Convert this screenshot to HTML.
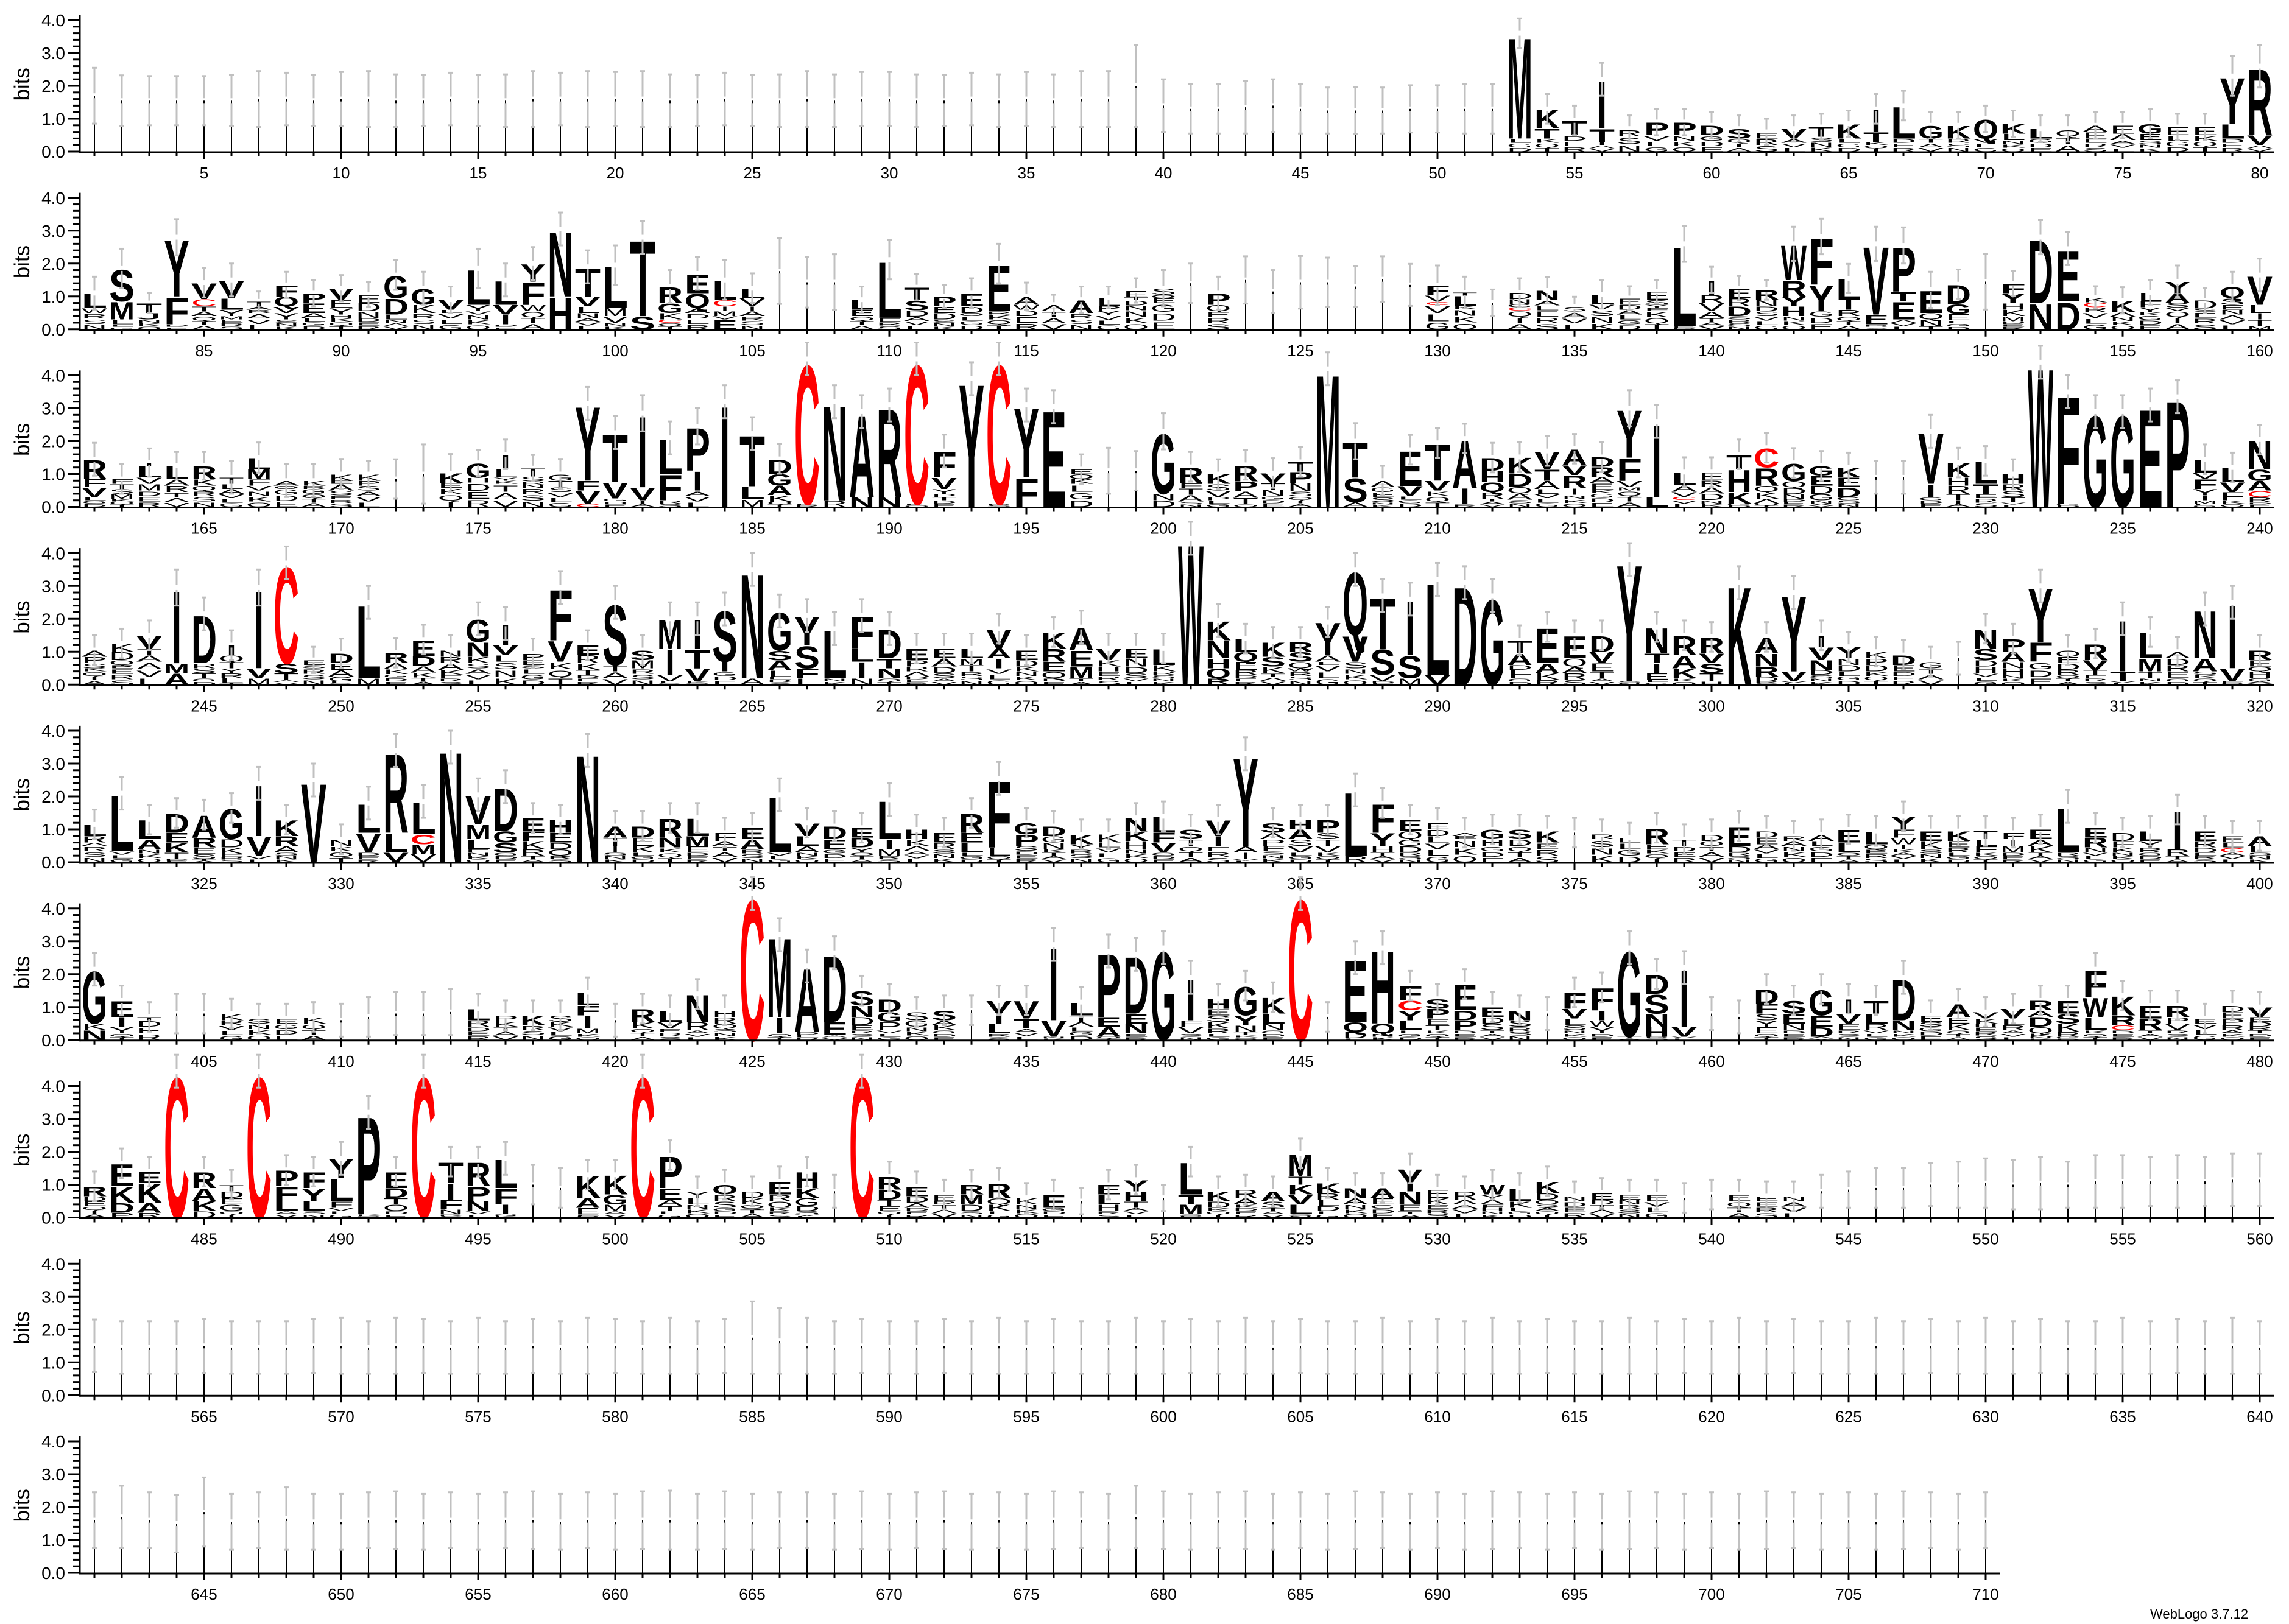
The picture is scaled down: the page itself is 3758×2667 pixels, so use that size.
<!DOCTYPE html>
<html><head><meta charset="utf-8"><title>WebLogo</title>
<style>html,body{margin:0;padding:0;background:#fff;}svg{display:block;}</style></head>
<body>
<svg id="logo" width="3758" height="2667" viewBox="0 0 3758 2667" xmlns="http://www.w3.org/2000/svg" font-family="Liberation Sans, Arial, sans-serif">
<text x="3530" y="2658" font-size="22" fill="#000">WebLogo 3.7.12</text>
</svg>
<script>
// Per-position stacks: letters top-to-bottom with heights in bits; "*" = mixed small residues, "|" = near-empty column; "/x" = error half-width (bits)
const row1Stacks = "|1.7/.85 |1.55/.77 |1.55/.75 |1.55/.75 |1.55/.75 |1.55/.78 |1.6/.85 |1.6/.8 |1.55/.78 |1.6/.82 |1.6/.85 |1.55/.8 |1.55/.78 |1.6/.8 |1.55/.78 |1.55/.8 |1.6/.85 |1.6/.8 |1.6/.85 |1.6/.82 |1.6/.85 |1.55/.8 |1.55/.78 |1.6/.8 |1.55/.78 |1.55/.8 |1.6/.85 |1.55/.8 |1.6/.82 |1.6/.82 |1.55/.8 |1.55/.78 |1.6/.8 |1.55/.8 |1.6/.82 |1.55/.8 |1.6/.85 |1.6/.85 |2.0/1.25 |1.4/.8 |1.3/.75 |1.3/.75 |1.35/.8 |1.4/.8 |1.3/.75 |1.25/.7 |1.25/.72 |1.25/.7 |1.3/.72 |1.3/.72 |1.3/.75 |1.3/.75 M3.2*.4/.45 K.6T.3*.4/.45 T.45*.5/.45 I1.5T.4*.3/.5 *.7/.4 P.4*.5/.4 P.4*.5/.4 D.3*.5/.4 S.3*.4/.4 *.6/.4 V.3*.4/.4 T.3*.45/.4 K.45*.4/.4 I.7T.3*.3/.45 L1.0*.4/.45 G.4*.4/.4 K.4*.4/.4 Q.6*.4/.4 K.3L.2*.35/.4 L.3*.4/.4 *.7/.4 A.2E.2*.4/.4 E.25A.2*.35/.4 G.3E.2*.35/.45 E.25*.5/.4 E.25*.5/.4 Y1.45L.45*.4/.6 R2.1V.3*.2/.65";
const row2Stacks = "L.45W.15*.5/.5 S1.0M.55L.15*.15/.6 T.3J.2*.3/.3 Y1.8F.85*.15/.55 V.5C.22T.15A.15*.4/.45 V.55L.35Y.2M.1*.3/.5 T.15A.1R.1*.5/.3 F.35Q.3V.2Y.2*.3/.4 P.3E.3A.15*.35/.4 V.35E.25Y.2H.1*.35/.4 E.25D.25N.2*.35/.38 G.7D.5E.15N.1*.2/.45 G.5K.25*.5/.5 V.3L.1*.5/.4 L1.1Y.2V.1*.45/.6 L.75V.3I.3*.15/.5 Y.55F.7W.2*.55/.5 N2.05H1.0/.5 T.9V.3L.2N.15*.35/.5 L1.3M.25V.2*.2/.6 T2.4S.4/.5 R.5G.3K.2C.1*.2/.5 E.6Q.45A.15*.5/.5 L.6C.2I.15M.15V.1E.3/.6 L.3V.25I.15A.15*.4/.45 |1.77/1.0 |1.43/.77 |1.43/.85 L.3E.2*.4/.4 L1.77*.35/.6 T.4S.3D.2*.38/.4 P.3E.2D.2*.3/.35 E.4D.2O.1*.4/.45 E1.45R.1*.45/.6 A.25W.15*.6/.42 A.2*.55/.3 A.4*.5/.4 L.25P.15Y.15*.42/.33 E.2T.1D.15N.15*.58/.37 S.2Q.1E.15*.8/.55 |1.4/.6 P.35Q.2*.55/.5 |1.5/.72 |1.15/.65 |1.43/.8 |1.43/.75 |1.3/.62 |1.52/.7 |1.35/.64 F.3V.2C.1*.74/.6 T.1L.3K.1*.62/.48 |.81/.4 D.2N.15G.1C.1*.57/.43 N.3A.15E.15*.58/.4 S.15*.54/.3 L.3V.15*.61/.43 E.2D.15A.15*.45/.36 E.25S.15Y.1F.1*.55/.35 L2.5*.1/.55 I.45R.25V.25A.2*.35/.4 E.3R.25D.3S.1*.3/.37 R.3N.2D.15S.15*.4/.3 W1.1R.5Y.3H.3*.4/.52 F1.45Y.8*.57/.54 L.65I.3R.2*.4/.44 V2.15E.3*.15/.52 P1.4T.3E.55*.3/.55 E.7Q.2N.2T.1/.55 D.6G.3E.2*.27/.45 |1.45/.85 F.3Y.3H.2K.2M.15*.25/.38 D2.0N.8/.52 E1.6D.85/.5 K.15C.15R.15*.52/.34 K.35A.15*.38/.4 L.25F.2Y.15K.1*.42/.37 Y.35A.3S.15V.1*.56/.48 D.25S.1*.53/.38 Q.35S.2E.15N.15*.45/.45 V.9L.25I.2T.2M.1/.5";
const row3Stacks = "R.6F.25V.3*.3/.5 F.15T.15S.15M.15*.25/.45 T.1L.35V.2M.2*.5/.43 L.4A.2R.2*.45/.42 R.4K.2Q.15*.5/.42 T.2L.15A.15*.4/.5 L.35M.3F.2V.15*.5/.46 A.15O.1*.55/.5 K.15R.1G.15*.4/.5 K.2E.1A.2S.15*.35/.46 K.2P.15S.15*.5/.4 |.85/.6 |1.0/.9 K.3E.15*.58/.58 G.45H.15*.74/.4 I.45L.25Y.1K.1*.7/.45 T.25S.15R.1N.1*.58/.4 G.2T.2S.15*.45/.46 Y2.35F.3V.4C.1/.5 T1.5V.5*.26/.5 I2.25V.4*.2/.55 L1.1F.8*.2/.5 P1.35I.6*.5/.55 I3.2/.5 T1.6L.4M.23/.5 D.45G.35A.3K.2*.16/.45 C4.4*.1/.5 N3.0R.2/.5 A2.6N.3/.5 R2.8N.3/.5 C4.4*.1/.5 F.8V.35Y.15P.1T.1*.2/.5 Y3.9/.5 C4.4*.1/.5 Y2.2F.9/.5 E3.05/.5 E.15Q.15K.15*.7/.45 |1.1/.7 |1.1/.6 G1.9N.2D.2/.55 R.5F.15T.2A.2*.17/.45 K.3S.2V.2P.1*.2/.45 R.5P.3A.2T.2*.08/.45 V.3T.2N.2*.33/.45 T.3P.35N.25S.15*.32/.45 M4.2/.5 T1.1S.75A.15/.55 A.2G.15E.15S.15*.15/.45 E1.1V.3*.34/.45 T1.15V.3*.5/.45 A1.5I.5*.08/.45 D.4H.35Q.3R.2*.25/.45 K.5D.4Q.2A.2*.22/.45 V.55T.35A.25L.15*.4/.45 A.5V.3R.4I.2*.37/.45 D.3R.3A.2E.2K.1*.42/.45 Y1.5F.7V.2M.1*.5/.55 I2.3L.3/.5 L.4A.2V.15C.1*.21/.45 E.25R.2A.2D.2*.21/.45 T.45H.7K.35*.1/.45 C.6R.55Q.2K.2A.15*.1/.45 G.55Q.2D.2N.15*.24/.45 G.3E.3D.25G.2N.1*.1/.45 K.3E.3D.3G.1*.2/.45 |.9/.5 |.9/.5 V1.6I.4*.3/.5 K.45H.25R.25T.2*.2/.45 L.7T.3*.4/.45 H.3R.2S.2T.15*.15/.45 W4.4/.5 F3.4*.1/.5 G2.9/.5 G2.9/.5 E3.1/.5 P3.35/.5 L.4V.2F.3Y.2T.15M.1*.1/.45 L.45V.3F.25*.2/.45 N.9G.35A.3C.2R.15*.15/.45";
const row4Stacks = "A.2P.2S.15K.1*.4/.45 K.25D.25Q.15E.1*.5/.45 V.4T.2A.2*.7/.45 I2.3M.3A.35/.55 D1.5R.15S.15T.15*.2/.5 I.3Q.2T.2Y.15R.15L.15*.05/.45 I2.45V.3M.2/.55 C3.05S.3T.2*.15/.5 E.15S.1*.5/.4 D.3E.2A.2G.15*.1/.45 L2.3M.2/.5 R.3A.2K.15*.32/.45 E.5D.3A.2K.15*.22/.45 N.2R.2A.2K.15*.3/.45 G.7N.45K.2S.15*.5/.5 I.65V.3L.2*.7/.5 P.2E.15S.1*.5/.45 F1.6V.65*.7/.5 E.3R.25K.2T.15*.3/.45 S1.9*.6/.5 S.3M.25*.5/.45 M.9I.8V.2*.1/.5 I.9T.6V.4*.1/.5 S1.6I.3*.4/.5 N3.3A.2/.5 G1.2S.3A.3L.2*.24/.5 Y.9S.7F.3L.2/.5 L1.5*.2/.5 F1.0L.4I.5N.2/.5 D.9T.3N.3*.2/.5 E.35P.2R.15A.15*.25/.45 E.3A.25D.2S.15*.2/.45 L.3M.2T.2*.4/.45 V.6A.3I.3*.5/.45 E.3D.2K.15*.4/.45 K.5R.4E.3Q.2*.2/.45 A.7E.5M.35*.2/.5 V.35K.2H.15*.4/.45 E.3N.25D.2S.15*.2/.45 L.5K.2R.1*.3/.45 W4.45/.5 K.6N.55H.3Q.3R.2/.5 L.4Q.3E.25R.15*.3/.45 K.45S.3K.2*.35/.45 R.3S.3Q.2W.1*.4/.45 V.6I.4A.2L.1*.6/.45 Q2.0V.8S.2*.5/.5 T1.6S.8V.2*.1/.5 I1.7S.7M.2/.5 L2.9V.3/.5 D3.1/.5 G2.7/.5 T.4A.35D.15L.15*.3/.45 E1.1A.3K.2R.15/.45 E.7Q.25A.2R.2S.15/.45 D.5V.35E.25T.2*.2/.45 Y3.7*.1/.5 N.8T.3I.3E.2*.15/.45 R.6A.4K.3*.2/.45 R.5V.3S.3T.25H.1/.45 K3.1/.5 A.5N.4R.3D.15*.1/.45 Y2.4V.3*.1/.5 I.35V.4N.3D.15*.3/.45 Y.35N.2D.2*.4/.45 K.2P.2D.2*.4/.45 D.3E.2*.4/.45 G.2*.5/.45 |.8/.5 N.6S.35D.2H.2*.35/.45 P.4A.3N.2H.2*.3/.45 Y1.7F.6*.7/.5 Q.2E.2D.2R.15*.3/.45 R.5V.3T.15*.3/.45 I1.6T.3*.1/.5 L.8M.4T.2*.2/.45 A.2D.2R.2E.2*.2/.45 N1.5A.4S.1*.3/.5 I2.0V.4*.1/.5 R.3E.2Q.15H.2G.1*.1/.45";
const row5Stacks = "L.35R.2A.1*.5/.45 L1.75*.35/.5 L.6A.3*.4/.45 D.6E.3K.3T.2*.1/.45 A.7R.3E.2S.15*.1/.45 G.95D.25K.2*.25/.45 I1.6V.6*.2/.5 K.5R.3A.2*.3/.45 V2.5/.5 N.2*.5/.45 L.9V.6*.3/.5 R2.5L.6V.3/.5 L1.0C.3M.3V.25/.5 N3.5/.5 V.9M.45L.3E.1*.3/.5 D1.35G.35S.3*.3/.5 E.4F.3K.25R.2*.2/.45 H.4E.3D.2Q.2*.2/.45 N3.4/.5 A.35T.25I.2*.3/.45 D.35E.25K.2*.3/.45 R.6N.3*.45/.45 L.55M.3E.2*.3/.45 F.25A.15*.5/.45 E.35A.3*.4/.45 L1.75*.3/.5 V.4L.3A.2*.3/.45 D.4E.3*.4/.45 E.3D.3Y.15*.3/.45 L1.2I.3M.2*.2/.5 H.3K.2A.15*.35/.45 E.3R.2*.4/.45 R.6E.3L.3*.3/.45 F2.1L.25*.2/.5 G.35P.35S.15*.35/.45 D.3G.2N.2K.1*.3/.45 K.3Y.15*.4/.45 K.25E.15*.45/.45 N.4K.3H.25*.4/.45 L.5F.3V.3*.3/.45 S.3T.2*.5/.45 V.5I.3*.5/.45 Y2.8A.2I.2*.1/.5 S.3A.2P.2F.15*.35/.45 H.3A.3S.2V.2*.3/.45 P.4S.2T.2V.2*.3/.45 L2.0R.2/.5 F.9Y.4H.2*.3/.45 E.35Q.25G.2D.2*.3/.45 E.2D.2L.2*.6/.45 A.1E.1*.7/.45 G.3H.2*.5/.45 S.3D.2*.5/.45 K.35*.6/.45 |.9/.45 R.15*.7/.45 E.15*.6/.45 R.5E.15*.4/.45 T.2*.5/.45 D.2O.15*.5/.45 E.6D.2*.3/.45 D.2E.2A.15*.4/.45 R.15A.15*.5/.45 A.2L.15*.5/.45 E.4L.3*.3/.45 L.4Q.15*.4/.45 Y.4F.25W.2I.15K.1*.3/.45 E.3K.25*.4/.45 K.3E.2R.15*.3/.45 T.25L.2F.2*.3/.45 F.2I.2M.2*.3/.45 E.3A.2K.2*.3/.45 L1.4*.3/.5 E.3R.3N.15*.3/.45 D.25F.2K.15*.3/.45 L.3Y.2R.15*.3/.45 I1.2R.2*.2/.45 E.3R.2D.15*.3/.45 E.2L.15C.15*.3/.45 A.3L.2*.3/.45";
const row6Stacks = "G1.65K.2N.3/.5 E.5I.3Y.2*.2/.45 T.1*.6/.45 |.8/.6 |.8/.6 K.2R.15*.45/.45 S.15*.5/.45 E.15*.5/.45 K.2*.5/.45 |.6/.5 |.7/.6 |.8/.65 |.8/.65 |.85/.7 L.35R.2*.4/.45 P.2K.15*.4/.45 K.3*.45/.45 S.2K.15*.4/.45 L.4F.3I.4M.15*.2/.45 |.6/.5 R.4K.2*.35/.45 L.35V.2*.35/.45 N.85R.25*.3/.45 H.2R.2Q.15*.35/.45 C4.45/.5 M2.5I.5*.2/.5 A2.0*.25/.5 D2.1E.4*.15/.5 S.45N.35D.25E.15*.3/.45 D.4G.3P.25*.3/.45 S.25G.2*.4/.45 S.3A.15K.15*.3/.45 |.9/.45 V.4I.3L.3*.2/.45 V.55T.3*.35/.45 I2.3V.5*.1/.5 L.4T.2A.15*.4/.45 P2.0E.3A.3*.1/.5 D1.8E.3N.3*.2/.5 G2.8/.5 I1.3F.2V.2*.2/.5 H.3E.2S.2K.2R.15*.2/.45 G.9Y.3N.2T.1*.15/.45 K.5L.3N.2*.3/.45 C4.45/.5 |.7/.45 E1.95Q.3D.2*.05/.5 H2.3Q.3*.2/.5 F.45C.3Y.3L.3*.3/.45 S.3P.3E.2T.15*.3/.45 E.8D.3P.3*.3/.45 E.3D.2S.2*.3/.45 N.3S.2*.4/.45 |.8/.5 F.5V.3L.2S.15*.3/.45 F.7I.3W.2Y.2*.2/.45 G2.7*.1/.5 D.6S.6N.4H.3*.1/.45 I1.8V.3*.1/.5 |.8/.5 |.7/.5 D.45F.3S.2Y.2E.2*.2/.45 S.4E.3N.2*.3/.45 G.8E.35D.3*.1/.45 I.45V.3E.2*.3/.45 T.4L.3R.2*.3/.45 D1.3N.3*.3/.5 E.2S.15*.4/.45 A.4E.2K.2*.3/.45 V.2K.15H.1*.4/.45 V.3L.2R.15*.3/.45 R.3A.2D.3Q.2K.1*.1/.45 E.4S.3K.25R.15*.1/.45 F.85W.6L.4*.3/.5 K.6R.3C.15*.3/.45 E.4R.35*.3/.45 R.35P.2V.2*.3/.45 E.15*.5/.45 D.2E.2P.2R.15A.1*.2/.45 V.3E.15D.15R.1T.1*.2/.45";
const row7Stacks = "R.3D.15E.15*.35/.45 E.7K.5D.3P.15/.45 E.35K.6A.3R.15/.45 C4.45/.5 R.5A.4K.3D.2/.45 T.2D.2E.2G.2*.2/.45 C4.45/.5 P.5F.45L.3*.2/.45 F.5Y.4L.3*.2/.45 Y.6L.7F.2*.3/.5 P3.1*.1/.5 E.5D.3T.2O.2*.2/.45 C4.45/.5 T.65I.5F.3N.15*.1/.45 R.75P.45N.3*.2/.45 L.9F.5I.3*.1/.5 |1.0/.6 |.9/.6 K.7A.3E.2*.1/.45 K.6G.3M.2*.2/.45 C4.45/.5 P1.0E.35A.2T.15*.2/.45 Y.2L.2*.4/.45 O.3R.2S.2*.3/.45 D.2K.2*.4/.45 E.4R.2O.2K.1*.2/.45 H.5K.3G.25D.15S.1*.1/.45 |.8/.5 C4.45/.5 R.4D.3T.2E.15*.2/.45 E.3D.2A.15*.3/.45 E.2R.1*.4/.45 R.3M.3D.2*.2/.45 R.45Q.2K.2*.2/.45 K.2*.4/.45 E.4*.3/.45 |.5/.4 E.3L.3H.2*.2/.45 Y.35H.3T.2*.3/.45 |.6/.4 L1.0T.3M.3*.1/.45 K.3D.2*.3/.45 R.25A.2K.1*.3/.45 A.3S.2*.3/.45 M.7T.25K.3V.3L.3*.1/.45 K.3R.2L.2D.15*.2/.45 N.3A.2*.4/.45 A.3E.2*.4/.45 Y.7N.4E.2*.2/.45 E.25K.2*.4/.45 R.25A.15*.4/.45 W.3Y.15A.15F.1H.1*.2/.45 L.4K.2*.3/.45 K.35D.2O.15S.1A.1*.2/.45 N.15*.5/.45 E.2D.15*.4/.45 E.15N.15*.4/.45 E.2*.5/.45 |.6/.45 |.7/.45 E.2*.5/.45 E.15*.5/.45 N.15*.5/.45 |.8/.5 |.85/.55 |.9/.6 |.9/.6 |1.0/.65 |1.0/.7 |1.05/.75 |1.0/.75 |1.05/.8 |1.0/.7 |1.1/.8 |1.1/.8 |1.1/.75 |1.1/.8 |1.1/.75 |1.15/.8 |1.15/.8";
const row8Stacks = "|1.5/.8 |1.45/.8 |1.45/.8 |1.45/.8 |1.5/.82 |1.45/.8 |1.45/.8 |1.45/.8 |1.5/.82 |1.5/.85 |1.45/.8 |1.5/.85 |1.5/.82 |1.45/.8 |1.5/.85 |1.45/.8 |1.5/.82 |1.45/.8 |1.5/.85 |1.5/.82 |1.45/.8 |1.5/.85 |1.45/.8 |1.5/.82 |1.75/1.1 |1.65/1.0 |1.5/.85 |1.45/.8 |1.5/.82 |1.45/.8 |1.45/.8 |1.5/.82 |1.45/.8 |1.5/.85 |1.45/.8 |1.5/.82 |1.45/.8 |1.45/.8 |1.5/.85 |1.45/.8 |1.5/.82 |1.45/.8 |1.5/.85 |1.45/.8 |1.5/.82 |1.45/.8 |1.45/.8 |1.5/.85 |1.45/.8 |1.5/.82 |1.45/.8 |1.5/.85 |1.45/.8 |1.5/.82 |1.45/.8 |1.45/.8 |1.5/.85 |1.45/.8 |1.5/.82 |1.45/.8 |1.5/.85 |1.45/.8 |1.5/.82 |1.45/.8 |1.45/.8 |1.5/.85 |1.45/.8 |1.5/.82 |1.45/.8 |1.5/.85 |1.45/.8 |1.5/.82 |1.45/.8 |1.45/.8 |1.5/.85 |1.45/.8 |1.5/.82 |1.45/.8 |1.5/.85 |1.45/.8";
const row9Stacks = "|1.6/.85 |1.7/.95 |1.6/.85 |1.5/.88 |1.85/1.05 |1.55/.85 |1.6/.85 |1.65/.95 |1.55/.85 |1.55/.85 |1.6/.85 |1.6/.88 |1.55/.85 |1.6/.85 |1.55/.85 |1.6/.85 |1.6/.88 |1.55/.85 |1.6/.85 |1.55/.85 |1.6/.88 |1.6/.9 |1.55/.85 |1.6/.88 |1.55/.85 |1.6/.85 |1.6/.85 |1.55/.85 |1.6/.88 |1.55/.85 |1.6/.85 |1.6/.88 |1.55/.85 |1.6/.85 |1.55/.85 |1.6/.88 |1.6/.85 |1.55/.85 |1.7/.95 |1.6/.88 |1.55/.85 |1.6/.85 |1.6/.88 |1.55/.85 |1.6/.85 |1.55/.85 |1.6/.88 |1.6/.85 |1.55/.85 |1.6/.85 |1.55/.85 |1.6/.88 |1.6/.85 |1.55/.85 |1.6/.85 |1.55/.85 |1.6/.88 |1.6/.85 |1.55/.85 |1.6/.85 |1.55/.85 |1.6/.88 |1.6/.85 |1.55/.85 |1.6/.85 |1.55/.85 |1.6/.88 |1.6/.85 |1.55/.85 |1.6/.85";
const rowStarts = [1, 81, 161, 241, 321, 401, 481, 561, 641];
const yTickLabels = ["0.0", "1.0", "2.0", "3.0", "4.0"];
const residueCycle = "EASLKDTRVNGQ";

const NS = "http://www.w3.org/2000/svg";
const svg = document.getElementById('logo');
const rowsData = [row1Stacks,row2Stacks,row3Stacks,row4Stacks,row5Stacks,row6Stacks,row7Stacks,row8Stacks,row9Stacks];
const PX_PER_BIT = 54, COL_W = 45, X0 = 155, AXIS_X = 131;
function baseY(r){ return 249 + r * 291.75; }
function colX(i){ return X0 + (i % 80) * COL_W; }
function yOf(r, bits){ return baseY(r) - bits * PX_PER_BIT; }
function mk(tag, attrs){ const e = document.createElementNS(NS, tag); for (const k in attrs) e.setAttribute(k, attrs[k]); return e; }
function parseStack(tok){
  const parts = tok.split('/');
  const err = parts[1] ? parseFloat(parts[1]) : 0.45;
  const items = []; const re = /([A-Z*|])(\d*\.?\d+)/g; let m;
  while ((m = re.exec(parts[0])) !== null) items.push([m[1], parseFloat(m[2])]);
  return {items, err};
}
function drawLetter(g, ch, cx, yb, hpx, light){
  if (hpx < 0.8) return;
  const narrow = (ch === 'I');
  const w = narrow ? 16 : 42;
  const t = mk('text', {x: 0, y: 0, 'font-size': 100, 'font-weight': light ? 'normal' : 'bold', textLength: w, lengthAdjust: 'spacingAndGlyphs', fill: ch === 'C' ? '#ff0000' : '#000', transform: 'translate(' + (cx - w/2) + ',' + yb + ') scale(1,' + (hpx / 72.9) + ')'});
  
  
  t.textContent = ch;
  g.appendChild(t);
}
rowsData.forEach((str, r) => {
  const toks = str.trim().split(/\s+/);
  const start = rowStarts[r];
  const n = toks.length;
  const g = mk('g', {});
  
  
  svg.appendChild(g);
  const by = baseY(r);
  toks.forEach((tok, k) => {
    const pos = start + k;
    const cx = colX(k);
    const {items, err} = parseStack(tok);
    const col = mk('g', {});
    
    
    g.appendChild(col);
    let total = 0; items.forEach(it => total += it[1]);
    let cur = 0;
    for (let j = items.length - 1; j >= 0; j--) {
      const [ch, h] = items[j];
      const yb = yOf(r, cur);
      const hpx = h * PX_PER_BIT;
      if (ch === '|') {
        const ln = mk('rect', {x: cx - 1, y: yb - hpx, width: 2, height: hpx, fill: '#000'});
        
        
        col.appendChild(ln);
      } else if (ch === '*') {
        const nSub = hpx > 12 ? 3 : (hpx > 5 ? 2 : 1);
        for (let s = 0; s < nSub; s++) {
          const sh = hpx / nSub;
          drawLetter(col, residueCycle[(pos + s * 5) % residueCycle.length], cx, yb - s * sh, sh * 0.85, true);
        }
      } else {
        drawLetter(col, ch, cx, yb, hpx, hpx < 14);
      }
      cur += h;
    }
    const lo = Math.max(0, total - err), hi = total + err;
    const eb = mk('g', {stroke: '#c0c0c0', 'stroke-width': 3, fill: 'none'});
    
    
    const yc = yOf(r, total);
    eb.appendChild(mk('line', {x1: cx, x2: cx, y1: yOf(r, hi), y2: yc - 4}));
    eb.appendChild(mk('line', {x1: cx, x2: cx, y1: yc + 4, y2: yOf(r, lo)}));
    eb.appendChild(mk('line', {x1: cx - 4, x2: cx + 4, y1: yOf(r, hi), y2: yOf(r, hi)}));
    eb.appendChild(mk('line', {x1: cx - 4, x2: cx + 4, y1: yOf(r, lo), y2: yOf(r, lo)}));
    col.appendChild(eb);
  });
  const xEnd = colX(n - 1) + 23;
  const xa = mk('line', {x1: AXIS_X, x2: xEnd, y1: by + 1, y2: by + 1, stroke: '#000', 'stroke-width': 3});
  
  
  g.appendChild(xa);
  for (let k = 0; k < n; k++) {
    const pos = start + k, cx = colX(k);
    const major = pos % 5 === 0;
    const tk = mk('line', {x1: cx, x2: cx, y1: by + 1, y2: by + (major ? 12 : 8), stroke: '#000', 'stroke-width': 3});
    
    
    g.appendChild(tk);
    if (major) {
      const tl = mk('text', {x: cx, y: by + 44, 'font-size': 26, 'text-anchor': 'middle', fill: '#000'});
      
      
      tl.textContent = String(pos);
      g.appendChild(tl);
    }
  }
  const ya = mk('line', {x1: AXIS_X, x2: AXIS_X, y1: by + 2.5, y2: yOf(r, 4.15), stroke: '#000', 'stroke-width': 3});
  
  
  g.appendChild(ya);
  for (let t = 0; t <= 20; t++) {
    const v = t * 0.2, yy = yOf(r, v);
    const major = t % 5 === 0;
    const tk = mk('line', {x1: AXIS_X - (major ? 20 : 11), x2: AXIS_X, y1: yy, y2: yy, stroke: '#000', 'stroke-width': 3});
    
    
    g.appendChild(tk);
  }
  yTickLabels.forEach((lab, j) => {
    const tl = mk('text', {x: 107, y: yOf(r, j) + 10, 'font-size': 28, 'text-anchor': 'end', fill: '#000'});
    
    
    tl.textContent = lab;
    g.appendChild(tl);
  });
  const yl = mk('text', {x: 0, y: 0, 'font-size': 35, 'text-anchor': 'middle', fill: '#000', transform: 'translate(48,' + yOf(r, 2.05) + ') rotate(-90)'});
  
  
  yl.textContent = 'bits';
  g.appendChild(yl);
});
</script>
</body></html>
